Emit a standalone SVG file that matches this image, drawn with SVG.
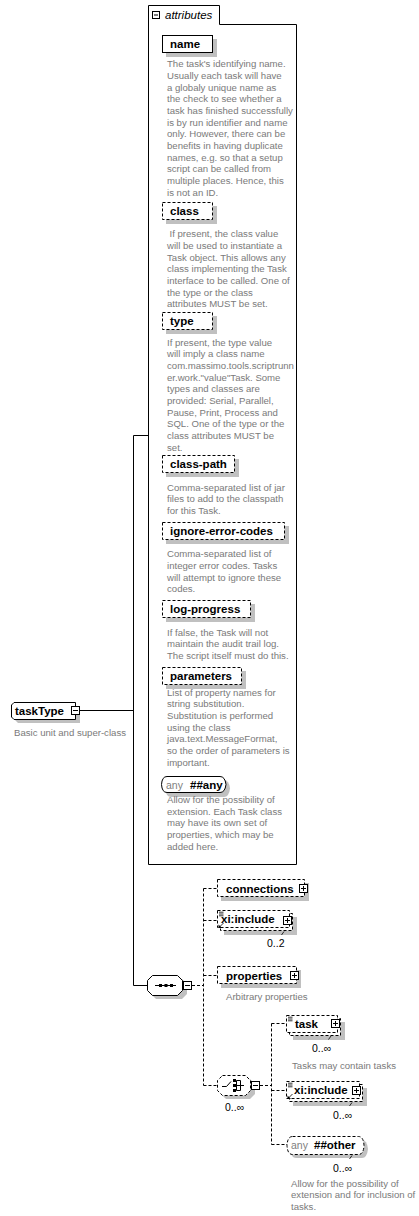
<svg xmlns="http://www.w3.org/2000/svg" xmlns:xlink="http://www.w3.org/1999/xlink" width="419" height="1216" viewBox="0 0 419 1216">
<style>
.lbl{font-family:"Liberation Sans",Arial,sans-serif;font-weight:bold;font-size:11.5px;fill:#000}
.desc{font-family:"Liberation Sans",Arial,sans-serif;font-size:9.6px;fill:#7a7a7a}
.occ{font-family:"Liberation Sans","DejaVu Sans",Arial,sans-serif;font-size:10.5px;fill:#000}
.anyt{font-family:"Liberation Sans",Arial,sans-serif;font-size:10.5px;fill:#808080}
.ital{font-family:"Liberation Sans",Arial,sans-serif;font-style:italic;font-size:11.5px;fill:#000}
.box{fill:#fff;stroke:#000;stroke-width:1}
.opt{stroke-dasharray:3,2}
.sh{fill:#c0c0c0}
.ln{stroke:#000;stroke-width:1;fill:none}
.dl{stroke:#000;stroke-width:1;fill:none;stroke-dasharray:3,2}
.ic{stroke:#000;stroke-width:0.8;fill:none}
</style>
<defs>
<symbol id="minus" viewBox="0 0 9 9" width="9" height="9"><rect x="0.5" y="0.5" width="8" height="8" fill="#fff" stroke="#000"/><path d="M2,4.5H7" stroke="#000"/></symbol>
<symbol id="plus" viewBox="0 0 9 9" width="9" height="9"><rect x="0.5" y="0.5" width="8" height="8" fill="#fff" stroke="#000"/><path d="M2,4.5H7M4.5,2V7" stroke="#000"/></symbol>
</defs>

<g id="connectors">
<path class="ln" d="M80,710.5H133.5M133.5,435.5V985.5M133.5,435.5H148M133.5,985.5H147"/>
<path class="dl" d="M192,985.5H203.5M203.5,888.5V1085.5M203.5,888.5H217M203.5,920.5H217M203.5,975.5H217M203.5,1085.5H217"/>
<path class="dl" d="M260,1085.5H271.5M271.5,1023.5V1144.5M271.5,1023.5H286M271.5,1090.5H286M271.5,1144.5H287"/>
</g>

<g id="taskType">
<path class="sh" d="M18,706H80V723H18L15,720V709Z"/>
<path class="box" d="M14,702.5H75.5V719.5H14L11.5,717V705Z"/>
<text class="lbl" x="15" y="715">taskType</text>
<use xlink:href="#minus" x="71" y="706"/>
<text class="desc" x="14" y="736">Basic unit and super-class</text>
</g>

<g id="attributes">
<path class="box" d="M148.5,864.5V5.5H219.5V24.5H296.5V864.5Z"/>
<rect x="152.5" y="11.5" width="7" height="7" fill="#fff" stroke="#000"/>
<path class="ln" d="M154,15H158"/>
<text class="ital" x="165" y="19">attributes</text>
</g>

<g id="attr-name">
<rect class="sh" x="166" y="39" width="51" height="18"/>
<rect class="box" x="162.5" y="35.5" width="50" height="17"/>
<text class="lbl" x="170" y="48">name</text>
<text class="desc" x="167" y="67.2"><tspan x="167">The task's identifying name.</tspan><tspan x="167" dy="11.67">Usually each task will have</tspan><tspan x="167" dy="11.67">a globaly unique name as</tspan><tspan x="167" dy="11.67">the check to see whether a</tspan><tspan x="167" dy="11.67">task has finished successfully</tspan><tspan x="167" dy="11.67">is by run identifier and name</tspan><tspan x="167" dy="11.67">only. However, there can be</tspan><tspan x="167" dy="11.67">benefits in having duplicate</tspan><tspan x="167" dy="11.67">names, e.g. so that a setup</tspan><tspan x="167" dy="11.67">script can be called from</tspan><tspan x="167" dy="11.67">multiple places. Hence, this</tspan><tspan x="167" dy="11.67">is not an ID.</tspan></text>
</g>

<g id="attr-class">
<rect class="sh" x="166" y="206" width="51" height="18"/>
<rect class="box opt" x="162.5" y="202.5" width="50" height="17"/>
<text class="lbl" x="170" y="215">class</text>
<text class="desc" x="167" y="237.2"><tspan x="169.5">If present, the class value</tspan><tspan x="167" dy="11.67">will be used to instantiate a</tspan><tspan x="167" dy="11.67">Task object. This allows any</tspan><tspan x="167" dy="11.67">class implementing the Task</tspan><tspan x="167" dy="11.67">interface to be called. One of</tspan><tspan x="167" dy="11.67">the type or the class</tspan><tspan x="167" dy="11.67">attributes MUST be set.</tspan></text>
</g>

<g id="attr-type">
<rect class="sh" x="166" y="316" width="51" height="18"/>
<rect class="box opt" x="162.5" y="312.5" width="50" height="17"/>
<text class="lbl" x="170" y="325">type</text>
<text class="desc" x="167" y="345.6"><tspan x="167">If present, the type value</tspan><tspan x="167" dy="11.67">will imply a class name</tspan><tspan x="167" dy="11.67">com.massimo.tools.scriptrunn</tspan><tspan x="167" dy="11.67">er.work."value"Task. Some</tspan><tspan x="167" dy="11.67">types and classes are</tspan><tspan x="167" dy="11.67">provided: Serial, Parallel,</tspan><tspan x="167" dy="11.67">Pause, Print, Process and</tspan><tspan x="167" dy="11.67">SQL. One of the type or the</tspan><tspan x="167" dy="11.67">class attributes MUST be</tspan><tspan x="167" dy="11.67">set.</tspan></text>
</g>

<g id="attr-class-path">
<rect class="sh" x="166" y="459" width="73" height="18"/>
<rect class="box opt" x="162.5" y="455.5" width="72" height="17"/>
<text class="lbl" x="170" y="468">class-path</text>
<text class="desc" x="167" y="490.6"><tspan x="167">Comma-separated list of jar</tspan><tspan x="167" dy="11.67">files to add to the classpath</tspan><tspan x="167" dy="11.67">for this Task.</tspan></text>
</g>

<g id="attr-ignore-error-codes">
<rect class="sh" x="166" y="526" width="123" height="18"/>
<rect class="box opt" x="162.5" y="522.5" width="122" height="17"/>
<text class="lbl" x="170" y="535">ignore-error-codes</text>
<text class="desc" x="167" y="557.2"><tspan x="167">Comma-separated list of</tspan><tspan x="167" dy="11.67">integer error codes. Tasks</tspan><tspan x="167" dy="11.67">will attempt to ignore these</tspan><tspan x="167" dy="11.67">codes.</tspan></text>
</g>

<g id="attr-log-progress">
<rect class="sh" x="166" y="604" width="89" height="18"/>
<rect class="box opt" x="162.5" y="600.5" width="88" height="17"/>
<text class="lbl" x="170" y="613">log-progress</text>
<text class="desc" x="167" y="635.6"><tspan x="167">If false, the Task will not</tspan><tspan x="167" dy="11.67">maintain the audit trail log.</tspan><tspan x="167" dy="11.67">The script itself must do this.</tspan></text>
</g>

<g id="attr-parameters">
<rect class="sh" x="166" y="671" width="80" height="18"/>
<rect class="box opt" x="162.5" y="667.5" width="79" height="17"/>
<text class="lbl" x="170" y="680">parameters</text>
<text class="desc" x="167" y="695.6"><tspan x="167">List of property names for</tspan><tspan x="167" dy="11.67">string substitution.</tspan><tspan x="167" dy="11.67">Substitution is performed</tspan><tspan x="167" dy="11.67">using the class</tspan><tspan x="167" dy="11.67">java.text.MessageFormat,</tspan><tspan x="167" dy="11.67">so the order of parameters is</tspan><tspan x="167" dy="11.67">important.</tspan></text>
</g>

<g id="attr-any">
<path class="sh" d="M171,780H224Q229,780 230,788.5Q229,797 224,797H171Q166,797 165,788.5Q166,780 171,780Z"/>
<path class="box" d="M167,776.5H220Q225,776.5 226,784.5Q225,792.5 220,792.5H167Q162,792.5 161.5,784.5Q162,776.5 167,776.5Z"/>
<text class="anyt" x="166" y="788.5">any</text>
<text class="lbl" x="190" y="788.5">##any</text>
<text class="desc" x="167" y="802.9"><tspan x="167">Allow for the possibility of</tspan><tspan x="167" dy="11.67">extension. Each Task class</tspan><tspan x="167" dy="11.67">may have its own set of</tspan><tspan x="167" dy="11.67">properties, which may be</tspan><tspan x="167" dy="11.67">added here.</tspan></text>
</g>

<g id="sequence">
<path class="sh" d="M156,979H182L187,984V994L182,999H156L151,994V984Z"/>
<path class="box" d="M152.5,975.5H177.5L182.5,980.5V990.5L177.5,995.5H152.5L147.5,990.5V980.5Z"/>
<path class="ln" d="M155,985.5H176"/>
<rect x="159" y="984" width="3" height="3" fill="#000"/>
<rect x="164.5" y="984" width="3" height="3" fill="#000"/>
<rect x="170" y="984" width="3" height="3" fill="#000"/>
<use xlink:href="#minus" x="183" y="981"/>
</g>

<g id="connections">
<rect class="sh" x="221" y="883" width="88" height="18"/>
<rect class="box opt" x="217.5" y="879.5" width="87" height="17"/>
<text class="lbl" x="226" y="892.5">connections</text>
<use xlink:href="#plus" x="299" y="884"/>
</g>

<g id="xi-include-1">
<rect class="sh" x="224" y="917" width="73" height="18"/>
<rect class="box opt" x="220.5" y="913.5" width="72" height="17"/>
<rect class="box opt" x="217.5" y="910.5" width="72" height="17"/>
<path class="ic" d="M219,912.2H223.5M219,914H223.5M219,915.8H223.5"/>
<path class="ic" d="M219.5,927L223.5,923"/>
<path d="M218.5,928V924.5L222,928Z" fill="#000"/>
<text class="lbl" x="221" y="923">xi:include</text>
<use xlink:href="#plus" x="283" y="916"/>
<path class="ic" d="M281.5,935L284,931.5"/>
<text class="occ" x="267" y="947">0..2</text>
</g>

<g id="properties">
<rect class="sh" x="221" y="970" width="80" height="18"/>
<rect class="box opt" x="217.5" y="966.5" width="79" height="17"/>
<text class="lbl" x="226" y="979.5">properties</text>
<use xlink:href="#plus" x="290" y="971"/>
<text class="desc" x="226" y="999.5">Arbitrary properties</text>
</g>

<g id="choice">
<path class="sh" d="M226,1079H250L255,1084V1094L250,1099H226L221,1094V1084Z"/>
<path class="box opt" d="M222.5,1075.5H245.5L250.5,1080.5V1090.5L245.5,1095.5H222.5L217.5,1090.5V1080.5Z"/>
<path class="ln" d="M222,1086.5H226.5L231,1081.5M236.5,1080.5V1090.5M236.5,1080.5H240.5M236.5,1085.5H240.5M236.5,1090.5H240.5M240.5,1080.5V1090.5M240.5,1085.5H244"/>
<rect x="233" y="1079" width="3" height="3" fill="#000"/>
<rect x="233" y="1084" width="3" height="3" fill="#000"/>
<rect x="233" y="1089" width="3" height="3" fill="#000"/>
<use xlink:href="#minus" x="251" y="1081"/>
<text class="occ" x="225" y="1111">0..∞</text>
</g>

<g id="task">
<rect class="sh" x="293" y="1022" width="52" height="18"/>
<rect class="box opt" x="289.5" y="1018.5" width="51" height="17"/>
<rect class="box opt" x="286.5" y="1015.5" width="51" height="17"/>
<path class="ic" d="M288,1017.2H292.5M288,1019H292.5M288,1020.8H292.5"/>
<text class="lbl" x="295" y="1028">task</text>
<use xlink:href="#plus" x="331" y="1019"/>
<path class="ic" d="M328.5,1039.5L331,1036"/>
<text class="occ" x="312" y="1052">0..∞</text>
<text class="desc" x="292" y="1068.5">Tasks may contain tasks</text>
</g>

<g id="xi-include-2">
<rect class="sh" x="293" y="1088" width="74" height="18"/>
<rect class="box opt" x="289.5" y="1084.5" width="73" height="17"/>
<rect class="box opt" x="286.5" y="1081.5" width="73" height="17"/>
<path class="ic" d="M288,1083.2H292.5M288,1085H292.5M288,1086.8H292.5"/>
<path class="ic" d="M288.5,1098L292.5,1094"/>
<path d="M287.5,1099V1095.5L291,1099Z" fill="#000"/>
<text class="lbl" x="294" y="1094">xi:include</text>
<use xlink:href="#plus" x="352" y="1086"/>
<path class="ic" d="M349.5,1106L352,1102.5"/>
<text class="occ" x="333" y="1119">0..∞</text>
</g>

<g id="any-other">
<path class="sh" d="M296,1140H362Q367,1140 368,1149Q367,1158 362,1158H296Q291,1158 290,1149Q291,1140 296,1140Z"/>
<path class="box opt" d="M292.5,1136.5H358.5Q363.5,1136.5 364,1145.5Q363.5,1154.5 358.5,1154.5H292.5Q287.5,1154.5 287,1145.5Q287.5,1136.5 292.5,1136.5Z"/>
<text class="anyt" x="291" y="1149">any</text>
<text class="lbl" x="314" y="1149">##other</text>
<path class="ic" d="M349.5,1159L352,1155.5"/>
<text class="occ" x="333" y="1172">0..∞</text>
<text class="desc" x="291" y="1186.7"><tspan x="291">Allow for the possibility of</tspan><tspan x="291" dy="11.67">extension and for inclusion of</tspan><tspan x="291" dy="11.67">tasks.</tspan></text>
</g>
</svg>
